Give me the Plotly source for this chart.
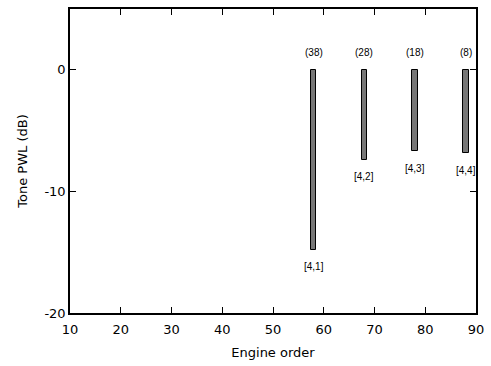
import plotly.graph_objects as go

orders = [58, 68, 78, 88]
pwl = [-14.8, -7.4, -6.7, -6.85]
top_labels = ["(38)", "(28)", "(18)", "(8)"]
mode_labels = ["[4,1]", "[4,2]", "[4,3]", "[4,4]"]
x_ticks = [10, 20, 30, 40, 50, 60, 70, 80, 90]
y_ticks = [-20, -10, 0]
y_tick_text = ["-20", "-10", "0"]

fig = go.Figure()
fig.add_trace(go.Bar(
    x=orders, y=pwl, base=0, width=1.1,
    marker=dict(color="#777777", line=dict(color="black", width=1)),
    showlegend=False,
))

for xo, v, t, m in zip(orders, pwl, top_labels, mode_labels):
    fig.add_annotation(x=xo, y=0, text=t, showarrow=False, yshift=17,
                       font=dict(family="Liberation Sans, Arial", size=10, color="black"))
    fig.add_annotation(x=xo, y=v, text=m, showarrow=False, yshift=-17,
                       font=dict(family="Liberation Sans, Arial", size=10, color="black"))

axis_common = dict(showgrid=False, zeroline=False, showline=True, linecolor="black",
                   linewidth=1.5, mirror="ticks", ticks="inside", ticklen=6,
                   tickcolor="black", tickfont=dict(family="DejaVu Sans", size=13, color="black"))

fig.update_layout(
    width=491, height=366,
    margin=dict(l=70, r=13, t=7, b=53),
    plot_bgcolor="white", paper_bgcolor="white",
    bargap=0,
    xaxis=dict(range=[10, 90], tickvals=x_ticks, ticklabelstandoff=4, **axis_common,
               title=dict(text="Engine order", font=dict(family="DejaVu Sans", size=13, color="black"),
                          standoff=12)),
    yaxis=dict(range=[-20, 5], tickvals=y_ticks, ticktext=y_tick_text, **axis_common,
               title=dict(text="Tone PWL (dB)", font=dict(family="DejaVu Sans", size=13, color="black"),
                          standoff=14)),
)

fig.write_html("out.html")
